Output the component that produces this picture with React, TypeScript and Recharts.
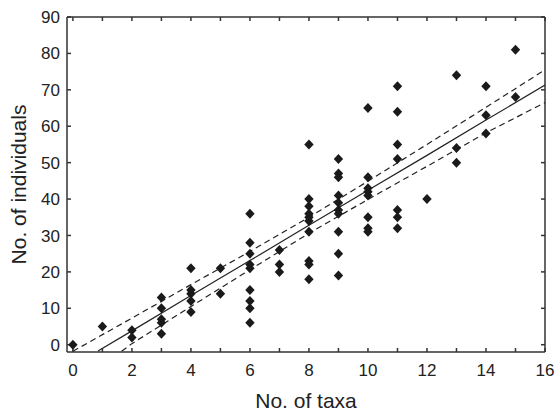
import { ScatterChart, Scatter, XAxis, YAxis, Label } from "recharts";

// observed points (No. of taxa, No. of individuals)
const taxa = [
  0, 1, 2, 2, 3, 3, 3, 3, 3, 4, 4, 4, 4, 4, 5, 5,
  6, 6, 6, 6, 6, 6, 6, 6, 6, 7, 7, 7,
  8, 8, 8, 8, 8, 8, 8, 8, 8, 8,
  9, 9, 9, 9, 9, 9, 9, 9, 9, 9,
  10, 10, 10, 10, 10, 10, 10, 10,
  11, 11, 11, 11, 11, 11, 11, 12, 13, 13, 13, 14, 14, 14, 15, 15,
];
const individuals = [
  0, 5, 4, 2, 13, 10, 7, 6, 3, 21, 15, 14, 12, 9, 21, 14,
  36, 28, 25, 22, 21, 15, 12, 10, 6, 26, 22, 20,
  55, 40, 38, 36, 35, 34, 31, 23, 22, 18,
  51, 47, 46, 41, 39, 37, 36, 31, 25, 19,
  65, 46, 43, 42, 41, 35, 32, 31,
  71, 64, 55, 51, 37, 35, 32, 40, 74, 54, 50, 71, 63, 58, 81, 68,
];

// regression line and 95% bands
const fitX = [0.85, 2, 4, 6, 8, 10, 12, 14, 16];
const fitY = [-1.7, 3.8, 13.5, 23.1, 32.8, 42.4, 52.0, 61.7, 71.3];
const upperX = [0, 2, 4, 6, 8, 10, 12, 14, 16];
const upperY = [-1.8, 7.3, 16.5, 25.6, 35.0, 44.9, 55.0, 65.2, 75.5];
const lowerX = [1.65, 2, 4, 6, 8, 10, 12, 14, 16];
const lowerY = [-1.8, 0.3, 10.5, 20.6, 30.6, 39.9, 49.0, 58.2, 66.5];

const xTicks = [0, 1, 2, 3, 4, 5, 6, 7, 8, 9, 10, 11, 12, 13, 14, 15, 16];
const yTicks = [0, 10, 20, 30, 40, 50, 60, 70, 80, 90];

const pts = taxa.map((x, i) => ({ x, y: individuals[i] }));
const zip = (xs: number[], ys: number[]) => xs.map((x, i) => ({ x, y: ys[i] }));

const font = "'Liberation Sans', Arial, sans-serif";
const ink = "#222";

const Diamond = (props: any) => {
  const { cx, cy } = props;
  return (
    <polygon
      points={`${cx},${cy - 5} ${cx + 4.7},${cy} ${cx},${cy + 5} ${cx - 4.7},${cy}`}
      fill="#1a1a1a"
    />
  );
};

const Nothing = () => <g />;

const XTick = (props: any) => {
  const { x, y, payload } = props;
  if (payload.value % 2 !== 0) return <g />;
  return (
    <text x={x} y={y} dy={12} textAnchor="middle" fontSize={17} fill={ink} fontFamily={font}>
      {payload.value}
    </text>
  );
};

export default function App() {
  return (
    <div style={{ position: "absolute", left: 0, top: 0, background: "#fff" }}>
      <ScatterChart
        width={556}
        height={412}
        margin={{ top: 16, right: 10, left: 0, bottom: 0 }}
        style={{ fontFamily: font }}
      >
        <XAxis
          xAxisId="b"
          type="number"
          dataKey="x"
          domain={[-0.2, 16]}
          ticks={xTicks}
          allowDataOverflow
          height={60}
          tickSize={-4}
          tickMargin={16}
          tick={XTick}
          stroke="#333"
          strokeWidth={1.5}
          interval={0}
        >
          <Label
            value="No. of taxa"
            position="insideBottom"
            offset={4}
            style={{ fontSize: 21, fill: ink, fontFamily: font }}
          />
        </XAxis>
        <XAxis
          xAxisId="t"
          orientation="top"
          type="number"
          dataKey="x"
          domain={[-0.2, 16]}
          ticks={xTicks}
          allowDataOverflow
          height={1}
          tickSize={-4}
          tick={Nothing}
          stroke="#333"
          strokeWidth={1.5}
          interval={0}
        />
        <YAxis
          yAxisId="l"
          type="number"
          dataKey="y"
          domain={[-2, 90]}
          ticks={yTicks}
          allowDataOverflow
          width={67}
          tickSize={-4}
          tickMargin={11}
          tick={{ fontSize: 17, fill: ink, fontFamily: font }}
          stroke="#333"
          strokeWidth={1.5}
          interval={0}
        >
          <Label
            value="No. of individuals"
            angle={-90}
            position="insideLeft"
            offset={19}
            style={{ fontSize: 21, fill: ink, fontFamily: font, textAnchor: "middle" }}
          />
        </YAxis>
        <YAxis
          yAxisId="r"
          orientation="right"
          type="number"
          dataKey="y"
          domain={[-2, 90]}
          ticks={yTicks}
          allowDataOverflow
          width={1}
          tickSize={-4}
          tick={Nothing}
          stroke="#333"
          strokeWidth={1.5}
          interval={0}
        />
        <Scatter
          xAxisId="b"
          yAxisId="l"
          data={zip(upperX, upperY)}
          line={{ stroke: "#222", strokeWidth: 1.2, strokeDasharray: "6 4" }}
          shape={Nothing}
          isAnimationActive={false}
        />
        <Scatter
          xAxisId="b"
          yAxisId="l"
          data={zip(lowerX, lowerY)}
          line={{ stroke: "#222", strokeWidth: 1.2, strokeDasharray: "6 4" }}
          shape={Nothing}
          isAnimationActive={false}
        />
        <Scatter
          xAxisId="b"
          yAxisId="l"
          data={zip(fitX, fitY)}
          line={{ stroke: "#222", strokeWidth: 1.2 }}
          shape={Nothing}
          isAnimationActive={false}
        />
        <Scatter
          xAxisId="b"
          yAxisId="l"
          data={pts}
          shape={Diamond}
          isAnimationActive={false}
        />
      </ScatterChart>
    </div>
  );
}
